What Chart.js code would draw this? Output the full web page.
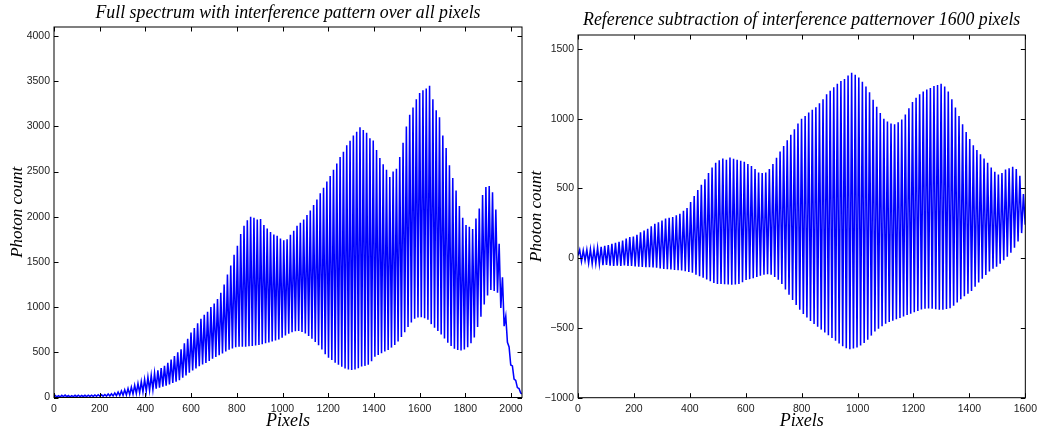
<!DOCTYPE html>
<html>
<head>
<meta charset="utf-8">
<script src="https://cdn.jsdelivr.net/npm/chart.js@4"></script>
<style>
  html, body { margin: 0; padding: 0; background: #fff; }
  #wrap { display: flex; width: 1042px; height: 432px; }
  canvas { display: block; }
</style>
</head>
<body>
<div id="wrap">
  <canvas id="fullChart" width="530" height="432"></canvas>
  <canvas id="subChart" width="512" height="432"></canvas>
</div>
<script>
//--------------------- Data ---------------------

// Full spectrum: fringe maxima / minima, one value per fringe (photon count)
const fullFirstPeak = 5;      // pixel of the first fringe maximum
const fullSpacing = 14.5;     // fringe spacing in pixels
const fullEnds = [15, 40];    // counts at pixel 0 and pixel 2048
const fullTops = [
  22, 20, 24, 26, 22, 20, 24, 25, 22, 24,
  26, 25, 28, 30, 30, 33, 38, 42, 50, 60,
  72, 85, 100, 115, 135, 155, 175, 200, 225, 245,
  270, 300, 325, 350, 385, 420, 460, 500, 534, 600,
  650, 720, 770, 820, 870, 915, 950, 1000, 1040, 1090,
  1160, 1250, 1360, 1460, 1580, 1680, 1810, 1900, 1960, 2000,
  1990, 1970, 1975, 1910, 1870, 1830, 1805, 1790, 1760, 1740,
  1750, 1800, 1845, 1900, 1935, 1970, 2020, 2070, 2130, 2190,
  2260, 2320, 2390, 2450, 2520, 2590, 2660, 2720, 2790, 2840,
  2900, 2940, 2990, 2960, 2930, 2870, 2845, 2740, 2650, 2580,
  2520, 2440, 2500, 2530, 2660, 2820, 3000, 3130, 3210, 3300,
  3370, 3400, 3420, 3450, 3300, 3180, 3100, 2900, 2760, 2570,
  2430, 2290, 2120, 1990, 1910, 1890, 1865, 1980, 2090, 2240,
  2330, 2340, 2270, 2080, 1700, 1330, 900, 560, 350, 190,
  100
];
const fullDips = [
  8, 6, 10, 9, 8, 10, 9, 10, 11, 10,
  12, 12, 13, 14, 15, 15, 16, 18, 20, 22,
  24, 28, 32, 38, 45, 52, 60, 70, 78, 88,
  98, 108, 120, 132, 145, 160, 175, 192, 220, 245,
  275, 298, 322, 345, 366, 382, 405, 428, 448, 468,
  488, 508, 528, 543, 555, 562, 563, 563, 566, 570,
  576, 582, 590, 600, 610, 620, 630, 642, 660, 685,
  705, 722, 732, 737, 725, 708, 680, 650, 615, 578,
  530, 478, 440, 415, 385, 362, 340, 320, 310, 305,
  310, 325, 342, 350, 362, 400, 450, 470, 490, 510,
  527, 552, 580, 620, 670, 722, 780, 830, 872, 886,
  889, 876, 860, 812, 772, 735, 698, 652, 605, 570,
  540, 525, 520, 532, 555, 600, 665, 780, 895, 1030,
  1130, 1190, 1180, 1160, 990, 790, 610, 360, 205, 110,
  50
];
const fullXTicks = [0, 200, 400, 600, 800, 1000, 1200, 1400, 1600, 1800, 2000];
const fullYTicks = [0, 500, 1000, 1500, 2000, 2500, 3000, 3500, 4000];

// Reference-subtracted spectrum over 1600 pixels
const subFirstPeak = 6;
const subSpacing = 12.8;
const subStart = 20;          // count at pixel 0
const subTops = [
  60, 56, 60, 64, 66, 75, 82, 88, 94, 104,
  111, 118, 126, 140, 152, 156, 168, 185, 198, 210,
  228, 246, 257, 270, 285, 290, 296, 307, 318, 340,
  360, 402, 446, 488, 526, 565, 610, 650, 685, 702,
  714, 705, 722, 712, 705, 698, 692, 675, 660, 640,
  615, 610, 615, 640, 675, 720, 765, 805, 845, 885,
  925, 965, 1000, 1020, 1045, 1065, 1082, 1110, 1140, 1175,
  1200, 1225, 1250, 1270, 1285, 1310, 1330, 1315, 1295, 1265,
  1230, 1190, 1135, 1085, 1040, 1000, 980, 965, 960, 975,
  995, 1030, 1075, 1120, 1150, 1175, 1195, 1210, 1220, 1235,
  1242, 1250, 1230, 1195, 1140, 1080, 1020, 960, 905, 855,
  810, 775, 745, 715, 685, 650, 620, 600, 610, 635,
  645, 655, 640, 590, 460
];
const subDips = [
  -24, -18, -35, -40, -37, -42, -50, -49, -54, -55,
  -54, -55, -52, -55, -56, -59, -61, -63, -64, -64,
  -66, -69, -73, -77, -79, -81, -84, -86, -88, -93,
  -99, -105, -118, -130, -140, -153, -166, -178, -184, -185,
  -186, -188, -190, -188, -184, -172, -157, -150, -143, -135,
  -126, -118, -115, -118, -135, -155, -185, -225, -262, -300,
  -335, -370, -400, -425, -450, -472, -492, -512, -532, -552,
  -572, -592, -612, -632, -645, -652, -648, -640, -625, -608,
  -585, -555, -525, -505, -488, -470, -458, -448, -438, -428,
  -418, -408, -398, -388, -378, -368, -362, -360, -362, -366,
  -370, -370, -365, -358, -340, -318, -295, -272, -255, -235,
  -205, -175, -148, -120, -95, -75, -62, -40, -15, 10,
  40, 75, 120, 180, 240
];
const subXTicks = [0, 200, 400, 600, 800, 1000, 1200, 1400, 1600];
const subYTicks = [-1000, -500, 0, 500, 1000, 1500];

// interleave maxima and minima into {x, y} points along the pixel axis
function fringePoints(first, spacing, tops, dips) {
  const pts = [];
  tops.forEach((top, i) => {
    const px = first + i * spacing;
    pts.push({ x: px, y: top });
    pts.push({ x: px + spacing / 2, y: dips[i] });
  });
  return pts;
}

const fullData = [{ x: 0, y: fullEnds[0] }]
  .concat(fringePoints(fullFirstPeak, fullSpacing, fullTops, fullDips))
  .concat([{ x: 2048, y: fullEnds[1] }]);
const subData = [{ x: 0, y: subStart }]
  .concat(fringePoints(subFirstPeak, subSpacing, subTops, subDips));

//--------------------- Chart Creation ---------------------

const tickFont = { family: "'Liberation Sans', Arial, sans-serif", size: 10.5 };
const texFont = (size, lh) => ({ family: "'Liberation Serif', 'Times New Roman', serif", style: "italic", weight: "normal", size: size, lineHeight: lh || 1 });
const plain = (v) => String(v).replace("-", "\u2212");
const fixedTicks = (list) => (scale) => { scale.ticks = list.map((v) => ({ value: v })); };

// matlab style box with inward ticks on all four sides
const boxFrame = {
  id: "boxFrame",
  afterDatasetsDraw(chart) {
    const { ctx, chartArea: a, scales } = chart;
    const len = 4.5;
    ctx.save();
    ctx.strokeStyle = "#000";
    ctx.lineWidth = 1;
    ctx.beginPath();
    scales.x.ticks.forEach((t) => {
      const px = Math.round(scales.x.getPixelForValue(t.value)) + 0.5;
      ctx.moveTo(px, a.bottom); ctx.lineTo(px, a.bottom - len);
      ctx.moveTo(px, a.top); ctx.lineTo(px, a.top + len);
    });
    scales.y.ticks.forEach((t) => {
      const py = Math.round(scales.y.getPixelForValue(t.value)) + 0.5;
      ctx.moveTo(a.left, py); ctx.lineTo(a.left + len, py);
      ctx.moveTo(a.right, py); ctx.lineTo(a.right - len, py);
    });
    ctx.stroke();
    ctx.strokeRect(a.left, a.top, a.right - a.left, a.bottom - a.top);
    ctx.restore();
  },
};

function makeChart(id, cfg) {
  return new Chart(document.getElementById(id), {
    type: "line",
    data: {
      datasets: [{
        data: cfg.data,
        borderColor: "#0000ff",
        borderWidth: 1.55,
        pointRadius: 0,
        tension: 0,
        fill: false,
      }],
    },
    options: {
      responsive: false,
      animation: false,
      layout: { padding: { left: 0, right: cfg.padRight, top: 0, bottom: 0 } },
      plugins: {
        legend: { display: false },
        tooltip: { enabled: false },
        title: {
          display: true,
          fullSize: false,
          text: cfg.title,
          color: "#000",
          font: texFont(17.8, 1.2),
          padding: cfg.titlePad,
        },
      },
      scales: {
        x: {
          type: "linear",
          min: cfg.xRange[0],
          max: cfg.xRange[1],
          afterBuildTicks: fixedTicks(cfg.xTicks),
          grid: { display: false, drawTicks: false },
          border: { display: false },
          ticks: { maxRotation: 0, autoSkip: false, font: tickFont, color: "#222", padding: 5, callback: plain },
          title: { display: true, text: "Pixels", color: "#000", font: texFont(18), padding: { top: 0, bottom: 1.5 } },
          afterFit: (s) => { s.height = cfg.xHeight; },
        },
        y: {
          min: cfg.yRange[0],
          max: cfg.yRange[1],
          afterBuildTicks: fixedTicks(cfg.yTicks),
          grid: { display: false, drawTicks: false },
          border: { display: false },
          ticks: { autoSkip: false, font: tickFont, color: "#222", padding: 4, callback: plain },
          title: { display: true, text: "Photon count", color: "#000", font: texFont(17), padding: { top: cfg.yTitlePad, bottom: 0 } },
          afterFit: (s) => { s.width = cfg.yWidth; },
        },
      },
    },
    plugins: [boxFrame],
  });
}

makeChart("fullChart", {
  data: fullData,
  title: "Full spectrum with interference pattern over all pixels",
  titlePad: { top: 2.5, bottom: 3.14 },
  xRange: [0, 2048],
  yRange: [0, 4100],
  xTicks: fullXTicks,
  yTicks: fullYTicks,
  padRight: 8,
  xHeight: 34.5,
  yWidth: 54,
  yTitlePad: 9,
});

makeChart("subChart", {
  data: subData,
  title: "Reference subtraction of interference patternover 1600 pixels",
  titlePad: { top: 9.5, bottom: 4.14 },
  xRange: [0, 1600],
  yRange: [-1000, 1600],
  xTicks: subXTicks,
  yTicks: subYTicks,
  padRight: 13,
  xHeight: 34.3,
  yWidth: 48,
  yTitlePad: -1.5,
});
</script>
</body>
</html>
